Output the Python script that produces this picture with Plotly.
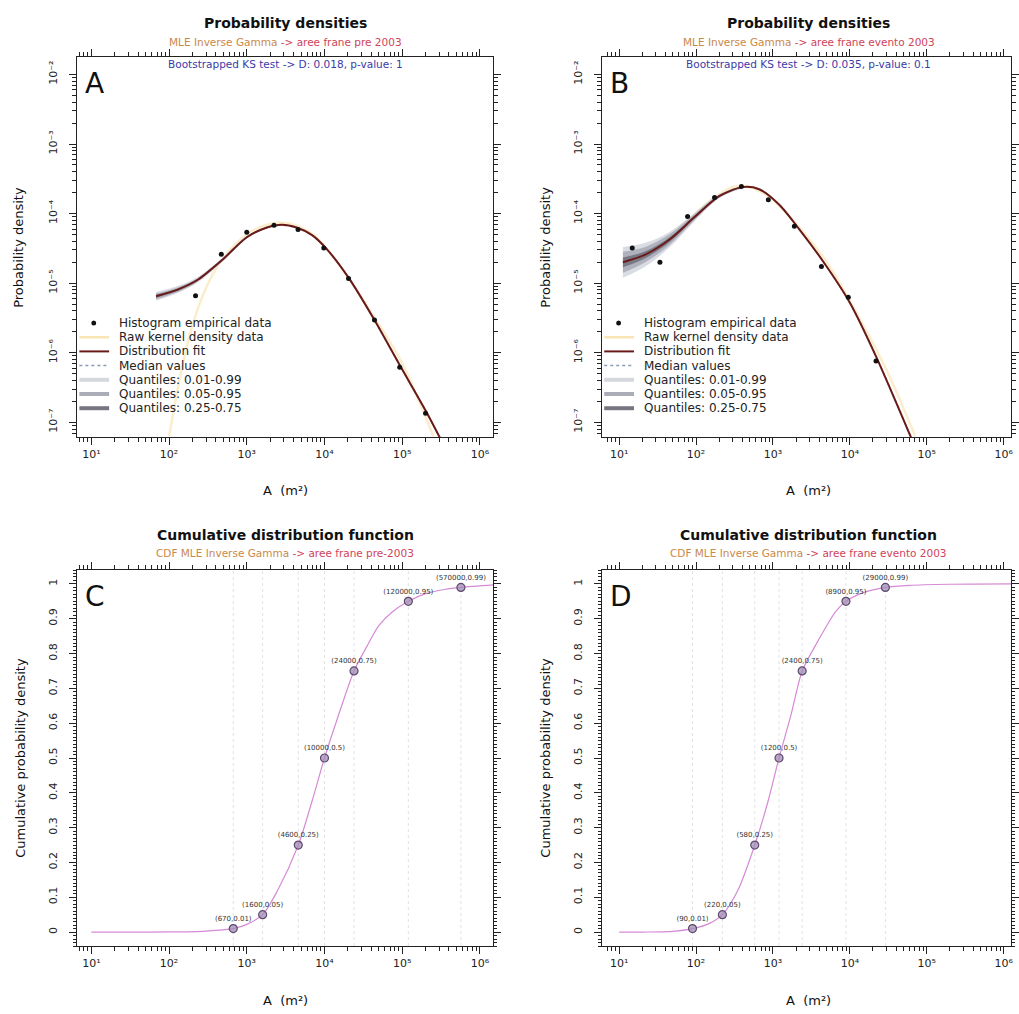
import plotly.graph_objects as go

W, H = 1019, 1014
FONT = "DejaVu Sans, Verdana, sans-serif"

# ---------------- data ----------------
# Panel A : landslide areas pre-2003
histA_x = [219, 470, 1000, 2240, 4570, 9800, 20400, 44000, 93000, 200000]
histA_y = [6.6e-6, 2.6e-5, 5.4e-5, 6.8e-5, 5.9e-5, 3.2e-5, 1.17e-5, 2.95e-6, 6.2e-7, 1.35e-7]
fitA_x = [68, 129, 234, 490, 1000, 1820, 2820, 4370, 6920, 10700, 20400, 43600, 93300, 200000, 316000]
fitA_y = [6.5e-6, 8.1e-6, 1.12e-5, 2.19e-5, 4.57e-5, 6.31e-5, 6.92e-5, 6.31e-5, 4.9e-5, 3.09e-5,
          1.2e-5, 3.0e-6, 6.6e-7, 1.48e-7, 5.6e-8]
kernA_x = [100, 200, 398, 1000, 2000, 3550, 7080, 15800, 39800, 100000, 251000]
kernA_y = [6.3e-8, 2.5e-6, 1.58e-5, 5.0e-5, 7.1e-5, 7.2e-5, 5.0e-5, 1.78e-5, 3.8e-6, 7.1e-7, 6.3e-8]
bandA_x = [68, 129, 234, 490, 1000, 1820, 2820]
bandA_q01_lo = [5.6e-6, 7.2e-6, 1.02e-5, 2.05e-5, 4.35e-5, 6.1e-5, 6.75e-5]
bandA_q01_hi = [7.5e-6, 9.1e-6, 1.23e-5, 2.33e-5, 4.8e-5, 6.52e-5, 7.1e-5]
bandA_q05_lo = [5.9e-6, 7.5e-6, 1.06e-5, 2.1e-5, 4.43e-5, 6.18e-5, 6.8e-5]
bandA_q05_hi = [7.1e-6, 8.7e-6, 1.18e-5, 2.27e-5, 4.7e-5, 6.44e-5, 7.04e-5]
bandA_q25_lo = [6.2e-6, 7.8e-6, 1.09e-5, 2.15e-5, 4.5e-5, 6.25e-5, 6.86e-5]
bandA_q25_hi = [6.8e-6, 8.4e-6, 1.15e-5, 2.23e-5, 4.64e-5, 6.37e-5, 6.98e-5]

# Panel B : landslide areas of the 2003 event
histB_x = [14.8, 33.9, 77.6, 174, 389, 871, 1900, 4270, 9550, 21900]
histB_y = [3.2e-5, 2.0e-5, 9.1e-5, 1.7e-4, 2.45e-4, 1.58e-4, 6.6e-5, 1.74e-5, 6.3e-6, 7.6e-7]
fitB_x = [11.2, 21.9, 45.7, 95.5, 200, 398, 661, 1200, 2190, 4570, 10000, 21900, 61700, 70800]
fitB_y = [2.0e-5, 2.57e-5, 4.27e-5, 8.9e-5, 1.78e-4, 2.4e-4, 2.24e-4, 1.35e-4, 6.0e-5, 2.0e-5,
          5.25e-6, 8.9e-7, 6.3e-8, 4.4e-8]
kernB_x = [11.2, 25.1, 63.1, 158, 355, 794, 2000, 5010, 12600, 31600, 70800]
kernB_y = [1.58e-5, 2.5e-5, 6.3e-5, 1.58e-4, 2.5e-4, 1.9e-4, 7.1e-5, 2.0e-5, 3.5e-6, 5.0e-7, 6.3e-8]
bandB_x = [11.2, 21.9, 45.7, 95.5, 200, 398]
bandB_q01_lo = [1.2e-5, 1.74e-5, 3.31e-5, 7.76e-5, 1.66e-4, 2.32e-4]
bandB_q01_hi = [3.31e-5, 3.8e-5, 5.5e-5, 1.02e-4, 1.91e-4, 2.48e-4]
bandB_q05_lo = [1.41e-5, 2.0e-5, 3.59e-5, 8.1e-5, 1.7e-4, 2.34e-4]
bandB_q05_hi = [2.82e-5, 3.31e-5, 5.07e-5, 9.8e-5, 1.86e-4, 2.45e-4]
bandB_q25_lo = [1.7e-5, 2.29e-5, 3.94e-5, 8.5e-5, 1.74e-4, 2.37e-4]
bandB_q25_hi = [2.34e-5, 2.88e-5, 4.62e-5, 9.3e-5, 1.82e-4, 2.43e-4]

# Panel C : CDF pre-2003
cdfC_x = [10, 30, 100, 300, 670, 1000, 1600, 2500, 4600, 7000, 10000, 15000, 24000, 35000, 50000,
          75000, 120000, 200000, 350000, 570000, 1500000]
cdfC_y = [0, 0, 0.0003, 0.003, 0.01, 0.022, 0.05, 0.12, 0.25, 0.38, 0.5, 0.62, 0.75, 0.82, 0.88,
          0.92, 0.95, 0.972, 0.984, 0.99, 0.997]
qC_x = [670, 1600, 4600, 10000, 24000, 120000, 570000]
qC_p = [0.01, 0.05, 0.25, 0.5, 0.75, 0.95, 0.99]

# Panel D : CDF event 2003
cdfD_x = [10, 20, 50, 90, 150, 220, 350, 580, 850, 1200, 1700, 2400, 3500, 5000, 6500, 8900,
          15000, 29000, 60000, 200000, 1300000]
cdfD_y = [0, 0, 0.002, 0.01, 0.025, 0.05, 0.12, 0.25, 0.37, 0.5, 0.62, 0.75, 0.82, 0.88, 0.92,
          0.95, 0.975, 0.99, 0.996, 0.999, 1.0]
qD_x = [90, 220, 580, 1200, 2400, 8900, 29000]
qD_p = [0.01, 0.05, 0.25, 0.5, 0.75, 0.95, 0.99]

xdec = [10, 100, 1000, 10000, 100000, 1000000]
xdec_txt = ["10¹", "10²", "10³", "10⁴", "10⁵", "10⁶"]
ydec = [1e-7, 1e-6, 1e-5, 1e-4, 1e-3, 1e-2]
ydec_txt = ["10⁻⁷", "10⁻⁶", "10⁻⁵", "10⁻⁴", "10⁻³", "10⁻²"]
cdf_ticks = [0, 0.1, 0.2, 0.3, 0.4, 0.5, 0.6, 0.7, 0.8, 0.9, 1]
cdf_ticktxt = ["0", "0.1", "0.2", "0.3", "0.4", "0.5", "0.6", "0.7", "0.8", "0.9", "1"]

legend_labels = ["Histogram empirical data", "Raw kernel density data", "Distribution fit",
                 "Median values", "Quantiles: 0.01-0.99", "Quantiles: 0.05-0.95", "Quantiles: 0.25-0.75"]

# ---------------- styling ----------------
FIT_C = "#6b1a1a"
KERN_C = "rgba(248,222,160,0.55)"
MED_C = "#8a9db5"
Q01_C = "rgba(214,216,224,0.9)"
Q05_C = "rgba(170,172,184,0.9)"
Q25_C = "rgba(118,118,130,0.95)"
CDF_C = "#d68ad6"

frames = {
    "A": dict(l=78, r=497, t=57, b=437),
    "B": dict(l=607, r=1019, t=57, b=437),
    "C": dict(l=78, r=497, t=570, b=946),
    "D": dict(l=607, r=1019, t=570, b=946),
}


def px(x):
    return x / W


def py(y):
    return 1 - y / H


fig = go.Figure()

axmap = {"A": ("x", "y"), "B": ("x2", "y2"), "C": ("x3", "y3"), "D": ("x4", "y4")}


def band(key, bx, lo, hi, color):
    xa, ya = axmap[key]
    fig.add_trace(go.Scatter(x=bx, y=lo, mode="lines", line=dict(width=0, color=color, shape="spline"),
                             xaxis=xa, yaxis=ya, showlegend=False, hoverinfo="skip"))
    fig.add_trace(go.Scatter(x=bx, y=hi, mode="lines", line=dict(width=0, color=color, shape="spline"),
                             fill="tonexty", fillcolor=color, xaxis=xa, yaxis=ya,
                             showlegend=False, hoverinfo="skip"))


def density_panel(key, hx, hy, fx, fy, kx, ky, bx, b01, b05, b25):
    xa, ya = axmap[key]
    fig.add_trace(go.Scatter(x=kx, y=ky, mode="lines", line=dict(color=KERN_C, width=2.5, shape="spline"),
                             xaxis=xa, yaxis=ya, showlegend=False))
    band(key, bx, b01[0], b01[1], Q01_C)
    band(key, bx, b05[0], b05[1], Q05_C)
    band(key, bx, b25[0], b25[1], Q25_C)
    fig.add_trace(go.Scatter(x=fx, y=fy, mode="lines", line=dict(color=MED_C, width=1.5, dash="dot", shape="spline"),
                             xaxis=xa, yaxis=ya, showlegend=False))
    fig.add_trace(go.Scatter(x=fx, y=fy, mode="lines", line=dict(color=FIT_C, width=2, shape="spline", smoothing=0.8),
                             xaxis=xa, yaxis=ya, showlegend=False))
    fig.add_trace(go.Scatter(x=hx, y=hy, mode="markers", marker=dict(color="#111111", size=5),
                             xaxis=xa, yaxis=ya, showlegend=False))


density_panel("A", histA_x, histA_y, fitA_x, fitA_y, kernA_x, kernA_y, bandA_x,
              (bandA_q01_lo, bandA_q01_hi), (bandA_q05_lo, bandA_q05_hi), (bandA_q25_lo, bandA_q25_hi))
density_panel("B", histB_x, histB_y, fitB_x, fitB_y, kernB_x, kernB_y, bandB_x,
              (bandB_q01_lo, bandB_q01_hi), (bandB_q05_lo, bandB_q05_hi), (bandB_q25_lo, bandB_q25_hi))


def cdf_panel(key, cx, cy, qx, qp):
    xa, ya = axmap[key]
    for q in qx:
        fig.add_trace(go.Scatter(x=[q, q], y=[-0.04, 1.04], mode="lines",
                                 line=dict(color="#e2e2e2", width=1, dash="dot"),
                                 xaxis=xa, yaxis=ya, showlegend=False, hoverinfo="skip"))
    fig.add_trace(go.Scatter(x=cx, y=cy, mode="lines", line=dict(color=CDF_C, width=1.2, shape="spline", smoothing=0.8),
                             xaxis=xa, yaxis=ya, showlegend=False))
    labels = ["(%s,%s)" % (q, p) for q, p in zip(qx, qp)]
    fig.add_trace(go.Scatter(x=qx, y=qp, mode="markers+text", text=labels, textposition="top center",
                             textfont=dict(size=7, color="#333333", family=FONT),
                             marker=dict(size=8, color="rgba(160,140,180,0.75)",
                                         line=dict(color="#5d4a6e", width=1.2)),
                             xaxis=xa, yaxis=ya, showlegend=False))


cdf_panel("C", cdfC_x, cdfC_y, qC_x, qC_p)
cdf_panel("D", cdfD_x, cdfD_y, qD_x, qD_p)


# ---------------- axes ----------------
def minor_log():
    vals = []
    for e in range(0, 8):
        for k in range(2, 10):
            vals.append(k * 10 ** e)
    return vals


def minor_log_neg():
    vals = []
    for e in range(-8, -1):
        for k in range(2, 10):
            vals.append(k * 10.0 ** e)
    return vals


common = dict(showline=True, linecolor="#222222", linewidth=1, mirror="ticks", ticks="outside",
              ticklen=7, tickcolor="#222222", showgrid=False, zeroline=False,
              tickfont=dict(size=11, color="#222222", family=FONT))

layout_axes = {}
for key, (xa, ya) in axmap.items():
    f = frames[key]
    xname = "xaxis" if xa == "x" else "xaxis" + xa[1:]
    yname = "yaxis" if ya == "y" else "yaxis" + ya[1:]
    xr = [0.82, 6.17] if key in ("A", "C") else [0.78, 6.096]
    layout_axes[xname] = dict(common, type="log", range=xr, domain=[px(f["l"]), px(f["r"])],
                              anchor=ya, tickmode="array", tickvals=xdec, ticktext=xdec_txt,
                              minor=dict(tickmode="array", tickvals=minor_log(), ticks="outside",
                                         ticklen=4, tickcolor="#222222"))
    if key in ("A", "B"):
        layout_axes[yname] = dict(common, type="log", range=[-7.21, -1.75],
                                  domain=[py(f["b"]), py(f["t"])], anchor=xa,
                                  tickmode="array", tickvals=ydec, ticktext=ydec_txt, tickangle=-90,
                                  ticklabelstandoff=8,
                                  minor=dict(tickmode="array", tickvals=minor_log_neg(), ticks="outside",
                                             ticklen=4, tickcolor="#222222"))
    else:
        layout_axes[yname] = dict(common, range=[-0.04, 1.04], domain=[py(f["b"]), py(f["t"])],
                                  anchor=xa, tickmode="array", tickvals=cdf_ticks, ticktext=cdf_ticktxt,
                                  tickangle=-90, ticklabelstandoff=8,
                                  minor=dict(dtick=0.01, tick0=0, ticks="outside", ticklen=3,
                                             tickcolor="#222222"))

# ---------------- annotations / text ----------------
ann = []
shapes = []


def text(x, y, s, size, color="#111111", bold=False, angle=0, xanchor="center", yanchor="middle"):
    if bold:
        s = "<b>" + s + "</b>"
    ann.append(dict(x=px(x), y=py(y), xref="paper", yref="paper", text=s, showarrow=False,
                    font=dict(size=size, color=color, family=FONT), textangle=angle,
                    xanchor=xanchor, yanchor=yanchor))


def sub(a, b):
    return "<span style='color:#c9894a'>%s</span> <span style='color:#d0435a'>%s</span>" % (a, b)


cA = (frames["A"]["l"] + frames["A"]["r"]) / 2
cB = 815
text(cA, 23, "Probability densities", 14, bold=True)
text(cB, 23, "Probability densities", 14, bold=True)
text(cA, 42, sub("MLE Inverse Gamma", "-> aree frane pre 2003"), 10.5)
text(cB, 42, sub("MLE Inverse Gamma", "-> aree frane evento 2003"), 10.5)
text(cA, 64, "Bootstrapped KS test -> D: 0.018, p-value: 1", 10.5, color="#3a3aa8")
text(cB, 64, "Bootstrapped KS test -> D: 0.035, p-value: 0.1", 10.5, color="#3a3aa8")
text(cA, 535, "Cumulative distribution function", 14, bold=True)
text(cB, 535, "Cumulative distribution function", 14, bold=True)
text(cA, 553, sub("CDF MLE Inverse Gamma", "-> aree frane pre-2003"), 10.5)
text(cB, 553, sub("CDF MLE Inverse Gamma", "-> aree frane evento 2003"), 10.5)

# axis titles
text(cA, 490, "A  (m²)", 13)
text(cB, 490, "A  (m²)", 13)
text(cA, 1000, "A  (m²)", 13)
text(cB, 1000, "A  (m²)", 13)
text(18, 247, "Probability density", 13, angle=-90)
text(549, 247, "Probability density", 13, angle=-90)
text(20, 758, "Cumulative probability density", 13, angle=-90)
text(549, 758, "Cumulative probability density", 13, angle=-90)

# panel letters
for key in "ABCD":
    f = frames[key]
    text(f["l"] + 6, f["t"] + 8, key, 28, xanchor="left", yanchor="top")

# manual legends
leg_styles = [None,
              dict(color="rgba(248,222,160,0.8)", width=2.5),
              dict(color=FIT_C, width=2),
              dict(color=MED_C, width=1.5, dash="dot"),
              dict(color="#d6d8e0", width=4),
              dict(color="#aaacb8", width=4),
              dict(color="#767682", width=4)]
for key in ("A", "B"):
    l = frames[key]["l"]
    for i, lab in enumerate(legend_labels):
        yy = 323 + i * 14.2
        st = leg_styles[i]
        if st is None:
            shapes.append(dict(type="circle", xref="paper", yref="paper",
                               x0=px(l + 14), x1=px(l + 19), y0=py(yy + 2.5), y1=py(yy - 2.5),
                               fillcolor="#111111", line=dict(width=0)))
        else:
            shapes.append(dict(type="line", xref="paper", yref="paper",
                               x0=px(l + 2), x1=px(l + 32), y0=py(yy), y1=py(yy), line=st))
        text(l + 40, yy, lab, 12, color="#222222", xanchor="left")

fig.update_layout(width=W, height=H, margin=dict(l=0, r=0, t=0, b=0),
                  paper_bgcolor="white", plot_bgcolor="white", showlegend=False,
                  annotations=ann, shapes=shapes, font=dict(family=FONT), **layout_axes)

fig.write_html("out.html", config={"displayModeBar": False},
               post_script="document.body.style.margin='0';document.body.style.overflow='hidden';")
